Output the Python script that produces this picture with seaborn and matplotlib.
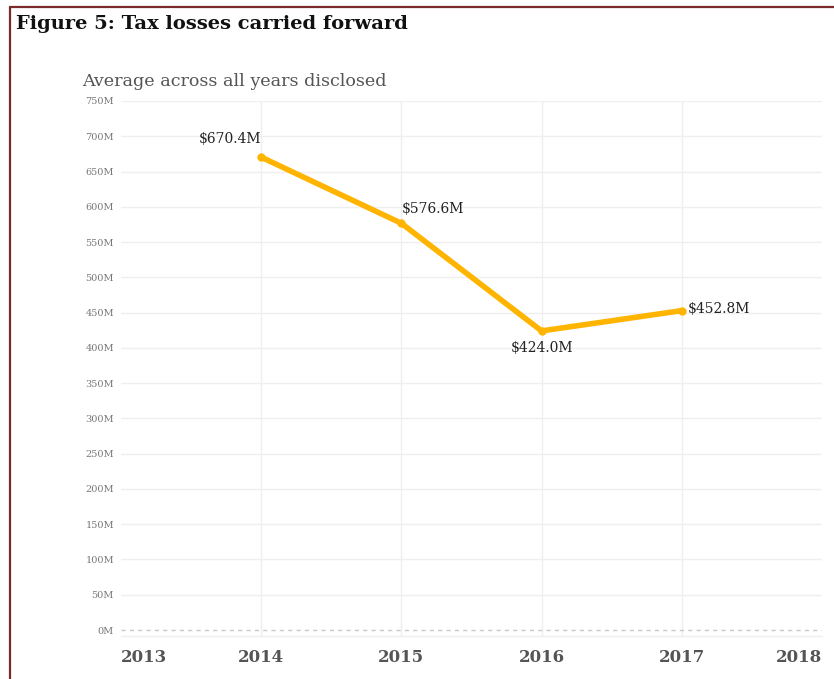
import matplotlib
matplotlib.use("Agg")
import matplotlib.pyplot as plt
import seaborn as sns
import pandas as pd
from matplotlib.lines import Line2D

years = [2014, 2015, 2016, 2017]
avg_losses = [670.4, 576.6, 424.0, 452.8]  # $M
x_ticks = [2013, 2014, 2015, 2016, 2017, 2018]
y_ticks = list(range(0, 751, 50))

df = pd.DataFrame({"year": years, "value": avg_losses})

sns.set_theme(style="white")
plt.rcParams["font.family"] = ["DejaVu Serif"]

fig = plt.figure(figsize=(8.34, 6.79), dpi=100)
ax = fig.add_axes([0.145, 0.0633, 0.8406, 0.788])

grid_c = "#efefef"
for yv in y_ticks[1:]:
    ax.axhline(yv, color=grid_c, lw=1, zorder=0)
for xv in x_ticks[1:-1]:
    ax.axvline(xv, color=grid_c, lw=1, zorder=0)
ax.axhline(0, color="#c8c8c8", lw=1, ls=(0, (3, 3)), zorder=1)

sns.lineplot(data=df, x="year", y="value", ax=ax, color="#FFB400",
             lw=4, marker="o", markersize=6, markeredgewidth=0, zorder=3)

ax.set_xlim(2013, 2018)
ax.set_ylim(-8.5, 750)
ax.set_xticks(x_ticks)
ax.set_xticklabels([str(v) for v in x_ticks], fontsize=12, fontweight="bold",
                   color="#555555")
xt = ax.get_xticklabels()
xt[0].set_horizontalalignment("left")
xt[-1].set_horizontalalignment("right")
ax.set_yticks(y_ticks)
ax.set_yticklabels([f"{v}M" for v in y_ticks], fontsize=7, color="#777777")
ax.tick_params(axis="both", length=0)
ax.tick_params(axis="x", pad=9)
ax.tick_params(axis="y", pad=5)
ax.set_xlabel("")
ax.set_ylabel("")
for s in ["top", "right", "left"]:
    ax.spines[s].set_visible(False)
ax.spines["bottom"].set_color(grid_c)
ax.spines["bottom"].set_linewidth(1)

lbl = dict(fontsize=10, color="#222222", zorder=4)
ax.annotate(f"${avg_losses[0]:.1f}M".replace("$", r"\$"), (years[0], avg_losses[0]),
            xytext=(0, 8), textcoords="offset points", ha="right", va="bottom", **lbl)
ax.annotate(f"${avg_losses[1]:.1f}M".replace("$", r"\$"), (years[1], avg_losses[1]),
            xytext=(0, 10), textcoords="offset points", ha="left", va="center", **lbl)
ax.annotate(f"${avg_losses[2]:.1f}M".replace("$", r"\$"), (years[2], avg_losses[2]),
            xytext=(0, -12), textcoords="offset points", ha="center", va="center", **lbl)
ax.annotate(f"${avg_losses[3]:.1f}M".replace("$", r"\$"), (years[3], avg_losses[3]),
            xytext=(4, 1), textcoords="offset points", ha="left", va="center", **lbl)

fig.text(16 / 834, 1 - 24 / 679, "Figure 5: Tax losses carried forward",
         fontsize=14, fontweight="bold", color="#111111", va="center", ha="left")
fig.text(82 / 834, 1 - 82 / 679, "Average across all years disclosed",
         fontsize=12.6, color="#555555", va="center", ha="left")

border_c = "#7a2a2a"
fig.add_artist(Line2D([10 / 834, 1], [1 - 7 / 679, 1 - 7 / 679],
                      transform=fig.transFigure, color=border_c, lw=1.6))
fig.add_artist(Line2D([10 / 834, 10 / 834], [0, 1 - 7 / 679],
                      transform=fig.transFigure, color=border_c, lw=1.6))

fig.savefig("out.png", dpi=100)
